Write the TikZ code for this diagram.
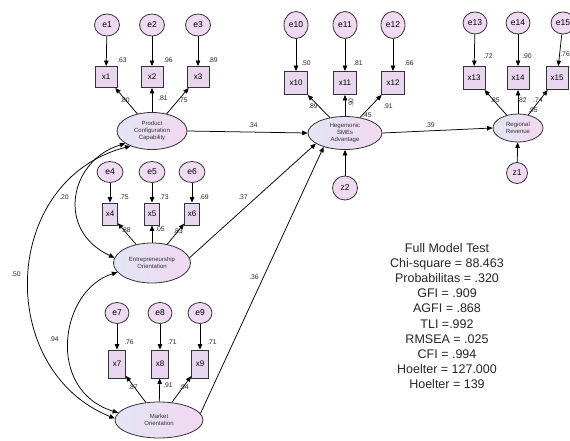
\documentclass[tikz,border=0pt]{standalone}
\usepackage{fontspec}
\setmainfont{Liberation Sans}
\usetikzlibrary{arrows.meta,shapes.geometric}
\definecolor{errfill}{HTML}{EFDAF2}
\definecolor{boxfill}{HTML}{E8D6EE}
\definecolor{latL}{HTML}{E2E5F5}
\definecolor{latR}{HTML}{F2D8F0}
\definecolor{edge}{HTML}{333333}
\begin{document}
\begin{tikzpicture}[x=1pt,y=-1pt,
  err/.style={ellipse,draw=edge,line width=0.8pt,fill=errfill,inner sep=0pt,minimum width=25pt,minimum height=22pt,font=\fontsize{8.5}{9}\selectfont},
  obs/.style={rectangle,draw=edge,line width=0.8pt,fill=boxfill,inner sep=0pt,font=\fontsize{8}{9}\selectfont},
  lat/.style={ellipse,draw=edge,line width=0.8pt,left color=latL,right color=latR,inner sep=0pt,align=center,font=\fontsize{6}{7}\selectfont,text=black!80},
  lbl/.style={font=\fontsize{6.8}{7}\selectfont,inner sep=0pt,text=black!85},
  arr/.style={draw=black,line width=0.75pt,-{Triangle[length=5.5pt,width=4.5pt]}},
  cov/.style={draw=black,line width=0.75pt,{Triangle[length=5.5pt,width=4.5pt]}-{Triangle[length=5.5pt,width=4.5pt]}},
]
\useasboundingbox (0,0) rectangle (570,441);
\fill[white] (0,0) rectangle (570,441);

% ---------- Product Configuration Capability ----------
\node[err] (e1) at (107,25) {e1};
\node[err] (e2) at (152,25) {e2};
\node[err] (e3) at (198,25) {e3};
\node[obs,minimum width=22pt,minimum height=21pt] (x1) at (106,77) {x1};
\node[obs,minimum width=22pt,minimum height=21pt] (x2) at (152,77) {x2};
\node[obs,minimum width=22pt,minimum height=21pt] (x3) at (198,77) {x3};
\node[lat,minimum width=70pt,minimum height=37pt] (PC) at (152,131) {Product\\Configuration\\Capability};

% ---------- Entrepreneurship Orientation ----------
\node[err,minimum width=26pt,minimum height=21pt] (e4) at (110,172) {e4};
\node[err,minimum width=26pt,minimum height=21pt] (e5) at (152,172) {e5};
\node[err,minimum width=26pt,minimum height=21pt] (e6) at (192,172) {e6};
\node[obs,minimum width=15pt,minimum height=22pt] (x4) at (110,214) {x4};
\node[obs,minimum width=15pt,minimum height=22pt] (x5) at (152,214) {x5};
\node[obs,minimum width=15pt,minimum height=22pt] (x6) at (192,214) {x6};
\node[lat,minimum width=77pt,minimum height=40pt] (EU) at (152,263) {Entrepreneurship\\Orientation};

% ---------- Market Orientation ----------
\node[err,minimum width=24pt,minimum height=21pt] (e7) at (117,313) {e7};
\node[err,minimum width=24pt,minimum height=21pt] (e8) at (160,313) {e8};
\node[err,minimum width=24pt,minimum height=21pt] (e9) at (200,313) {e9};
\node[obs,minimum width=17pt,minimum height=28pt] (x7) at (117,364) {x7};
\node[obs,minimum width=17pt,minimum height=28pt] (x8) at (160,364) {x8};
\node[obs,minimum width=17pt,minimum height=28pt] (x9) at (200,364) {x9};
\node[lat,minimum width=88pt,minimum height=36pt] (MO) at (159,420) {Market\\Orientation};

% ---------- Hegemonic SMEs Advantage ----------
\node[err,minimum width=24pt,minimum height=27pt] (e10) at (296,25) {e10};
\node[err,minimum width=24pt,minimum height=27pt] (e11) at (345,25) {e11};
\node[err,minimum width=24pt,minimum height=27pt] (e12) at (393,25) {e12};
\node[obs,minimum width=23pt,minimum height=23pt] (x10) at (296,83) {x10};
\node[obs,minimum width=23pt,minimum height=23pt] (x11) at (345,83) {x11};
\node[obs,minimum width=23pt,minimum height=23pt] (x12) at (393,83) {x12};
\node[lat,minimum width=74pt,minimum height=33pt] (HSA) at (345,133) {Hegemonic\\SMEs\\Advantage};
\node[err,minimum width=25pt,minimum height=24pt] (z2) at (345,188) {z2};

% ---------- Regional Revenue ----------
\node[err,minimum width=24pt,minimum height=22pt] (e13) at (475,23) {e13};
\node[err,minimum width=24pt,minimum height=22pt] (e14) at (518,23) {e14};
\node[err,minimum width=24pt,minimum height=22pt] (e15) at (563,23) {e15};
\node[obs,minimum width=22pt,minimum height=23pt] (x13) at (474,78) {x13};
\node[obs,minimum width=22pt,minimum height=23pt] (x14) at (518,78) {x14};
\node[obs,minimum width=22pt,minimum height=23pt] (x15) at (557,78) {x15};
\node[lat,minimum width=50pt,minimum height=28pt] (RR) at (518,128) {Regional\\Revenue};
\node[err,minimum width=21pt,minimum height=21pt] (z1) at (517,173) {z1};

% ---------- error arrows ----------
\foreach \i in {1,...,15} { \draw[arr] (e\i) -- (x\i); }
\draw[arr] (z2) -- (HSA);
\draw[arr] (z1) -- (RR);

% ---------- loadings ----------
\foreach \i in {1,2,3} { \draw[arr] (PC) -- (x\i); }
\foreach \i in {4,5,6} { \draw[arr] (EU) -- (x\i); }
\foreach \i in {7,8,9} { \draw[arr] (MO) -- (x\i); }
\foreach \i in {10,11,12} { \draw[arr] (HSA) -- (x\i); }
\foreach \i in {13,14,15} { \draw[arr] (RR) -- (x\i); }

% ---------- structural paths ----------
\draw[arr] (PC.east) -- (HSA.west);
\draw[arr] (EU.8) -- (HSA.200);
\draw[arr] (MO.9) -- (HSA.213);
\draw[arr] (HSA.east) -- (RR.west);

% ---------- covariances ----------
\draw[cov] (PC.205) .. controls (70,160) and (55,230) .. (EU.172);
\draw[cov] (PC.215) .. controls (0,180) and (-5,370) .. (MO.178);
\draw[cov] (EU.195) .. controls (60,290) and (45,390) .. (MO.170);

% ---------- labels ----------
\node[lbl] (l1) at (122,60) {.63};
\node[lbl] (l2) at (168,60) {.96};
\node[lbl] (l3) at (213,60) {.89};
\node[lbl] (l4) at (125,100) {.80};
\node[lbl] (l5) at (163,98) {.81};
\node[lbl] (l6) at (183,100) {.75};
\node[lbl] (l7) at (124,197) {.75};
\node[lbl] (l8) at (164,197) {.73};
\node[lbl] (l9) at (204,197) {.69};
\node[lbl] (l10) at (126,230) {.88};
\node[lbl] (l11) at (160,229) {.05};
\node[lbl] (l12) at (178,231) {.83};
\node[lbl] (l13) at (129,342) {.76};
\node[lbl] (l14) at (172,342) {.71};
\node[lbl] (l15) at (212,342) {.71};
\node[lbl] (l16) at (133,387) {.87};
\node[lbl] (l17) at (168,385) {.91};
\node[lbl] (l18) at (184,387) {.94};
\node[lbl] (l19) at (64,197) {.20};
\node[lbl] (l20) at (16,274) {.50};
\node[lbl] (l21) at (54,339) {.94};
\node[lbl] (l22) at (306,63) {.50};
\node[lbl] (l23) at (358,63) {.81};
\node[lbl] (l24) at (409,63) {.66};
\node[lbl] (l25) at (313,106) {.89};
\node[lbl,rotate=90] (l26) at (351,103) {.90};
\node[lbl] (l27) at (388,106) {.91};
\node[lbl] (l28) at (367,115) {.45};
\node[lbl] (l29) at (253,125) {.34};
\node[lbl] (l30) at (243,197) {.37};
\node[lbl] (l31) at (254,277) {.36};
\node[lbl] (l32) at (430,125) {.39};
\node[lbl] (l33) at (488,56) {.72};
\node[lbl] (l34) at (527,56) {.90};
\node[lbl,anchor=east] (l35) at (570,54) {.76};
\node[lbl] (l36) at (495,100) {.85};
\node[lbl] (l37) at (522,100) {.82};
\node[lbl] (l38) at (538,100) {.74};
\node[lbl] (l39) at (533,110) {.95};

% ---------- fit summary ----------
\node[align=center,font=\fontsize{12.5}{15.1}\selectfont,text=black!85,inner sep=0pt] (fit) at (447,316)
{Full Model Test\\Chi-square = 88.463\\Probabilitas = .320\\GFI = .909\\AGFI = .868\\TLI =.992\\RMSEA = .025\\CFI = .994\\Hoelter = 127.000\\Hoelter = 139};
\end{tikzpicture}
\end{document}
